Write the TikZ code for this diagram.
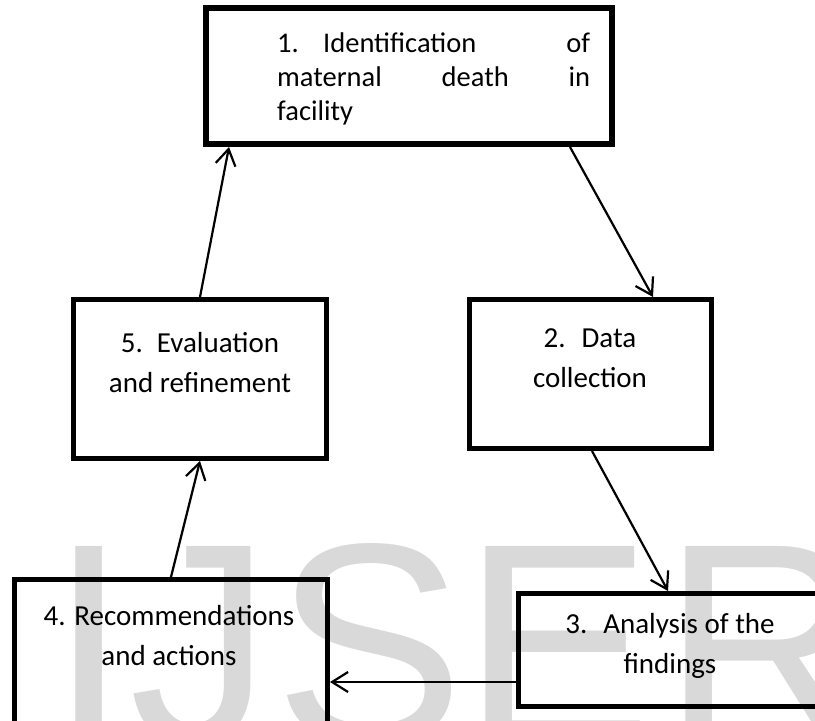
\documentclass[tikz,border=0pt]{standalone}
\usepackage{fontspec}
\setmainfont{Carlito}
\newfontfamily\wmfont{Liberation Sans}
\usetikzlibrary{arrows.meta,calc}
\definecolor{wmgray}{RGB}{217,217,217}
\begin{document}
\begin{tikzpicture}[x=1pt,y=-1pt,
  box/.style={draw, line width=5pt, inner sep=0pt, anchor=center},
  arr/.style={line width=2.2pt, -{Straight Barb[length=16pt,width=20pt]}},
  wm/.style={text=wmgray, font=\wmfont\fontsize{285}{285}\selectfont, anchor=base west, inner sep=0pt},
  lbl/.style={font=\fontsize{29}{40}\selectfont, inner sep=0pt, anchor=base, align=center}]
\useasboundingbox (0,0) rectangle (815,721);
\begin{scope}
\clip (0,0) rectangle (815,721);
% watermark
\node[wm] (wI) at (49.5,742) {I};
\node[wm] (wJ) at (129,742) {J};
\node[wm] (wS) at (274,742) {S};
\node[wm] (wE) at (462.5,742) {E};
\node[wm] (wR) at (662.5,742) {R};
% boxes
\node[box, line width=6pt, minimum width=406pt, minimum height=136pt] (b1) at (409,76) {};
\node[box, minimum width=242pt, minimum height=149pt] (b2) at (590.5,374) {};
\node[box, minimum width=304pt, minimum height=113pt] (b3) at (670.5,650) {};
\node[box, minimum width=313pt, minimum height=155pt] (b4) at (171,657) {};
\node[box, minimum width=253pt, minimum height=159pt] (b5) at (200,379) {};
% labels
\node[font=\fontsize{28.5}{34}\selectfont, inner sep=0pt, anchor=base west, text width=313pt, align=justify] (t1) at (277,52)
  {\hyphenpenalty=10000 \hangindent=46pt \hangafter=1 \noindent\makebox[46pt][l]{1.}Identification of\linebreak maternal death in\linebreak facility};
\node[lbl] (t2) at (590,387) {2.\hspace{16pt}Data\\collection};
\node[lbl] (t3) at (670,673) {3.\hspace{16pt}Analysis of the\\findings};
\node[lbl] (t4) at (169,665) {4. Recommendations\\and actions};
\node[lbl] (t5) at (200,392) {5.\hspace{14pt}Evaluation\\and refinement};
% connectors
\draw[arr] (b1.south -| 570,0) -- (b2.north -| 653,0);
\draw[arr] (b2.south -| 592,0) -- (b3.north -| 668,0);
\draw[arr] (b3.west |- 0,682) -- (b4.east |- 0,682);
\draw[arr] (b4.north -| 171,0) -- (b5.south -| 200,0);
\draw[arr] (b5.north -| 200,0) -- (b1.south -| 229,0);
\end{scope}
\end{tikzpicture}
\end{document}
